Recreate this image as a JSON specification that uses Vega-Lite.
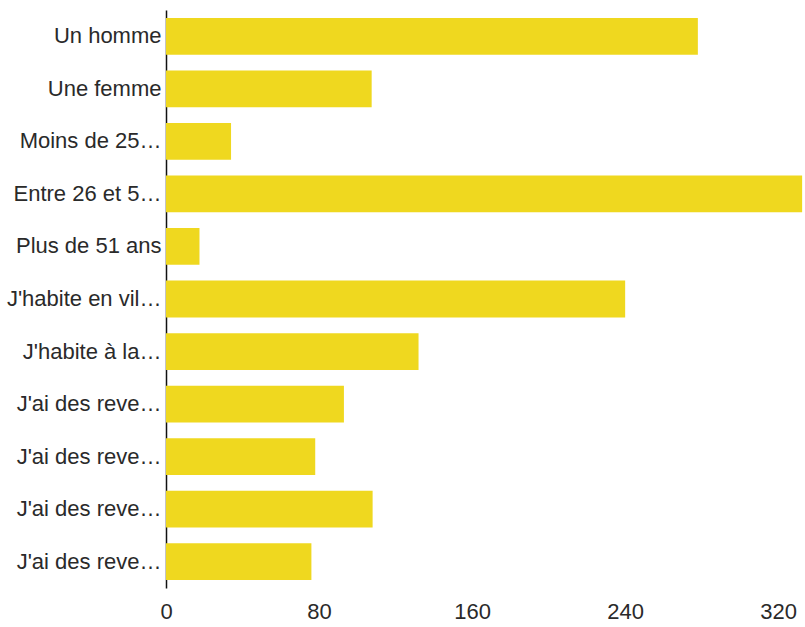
{
  "$schema": "https://vega.github.io/schema/vega-lite/v6.json",
  "width": 639,
  "height": 578,
  "autosize": {"type": "none"},
  "padding": {"left": 166, "top": 10, "right": 0, "bottom": 39},
  "background": "white",
  "config": {"view": {"stroke": null}, "font": "Liberation Sans"},
  "data": {
    "values": [
      {"label": "Un homme|1", "value": 278},
      {"label": "Une femme|2", "value": 107.5},
      {"label": "Moins de 25…|3", "value": 34},
      {"label": "Entre 26 et 5…|4", "value": 332.5},
      {"label": "Plus de 51 ans|5", "value": 17.5},
      {"label": "J'habite en vil…|6", "value": 240},
      {"label": "J'habite à la…|7", "value": 132},
      {"label": "J'ai des reve…|8", "value": 93},
      {"label": "J'ai des reve…|9", "value": 78},
      {"label": "J'ai des reve…|10", "value": 108},
      {"label": "J'ai des reve…|11", "value": 76}
    ]
  },
  "mark": {"type": "bar", "color": "#efd81f"},
  "encoding": {
    "y": {
      "field": "label",
      "type": "nominal",
      "sort": null,
      "title": null,
      "scale": {"paddingInner": 0.3, "paddingOuter": 0.15},
      "axis": {
        "labelExpr": "split(datum.label, '|')[0]",
        "ticks": false,
        "domainColor": "#111111",
        "domainWidth": 1.5,
        "labelFontSize": 22,
        "labelColor": "#2a2a2a",
        "labelPadding": 5,
        "labelLimit": 300
      }
    },
    "x": {
      "field": "value",
      "type": "quantitative",
      "title": null,
      "scale": {"domain": [0, 334], "nice": false},
      "axis": {
        "values": [0, 80, 160, 240, 320],
        "domain": false,
        "ticks": false,
        "grid": false,
        "labelFontSize": 22,
        "labelColor": "#2a2a2a",
        "labelPadding": 13,
        "labelFlush": false
      }
    }
  }
}
